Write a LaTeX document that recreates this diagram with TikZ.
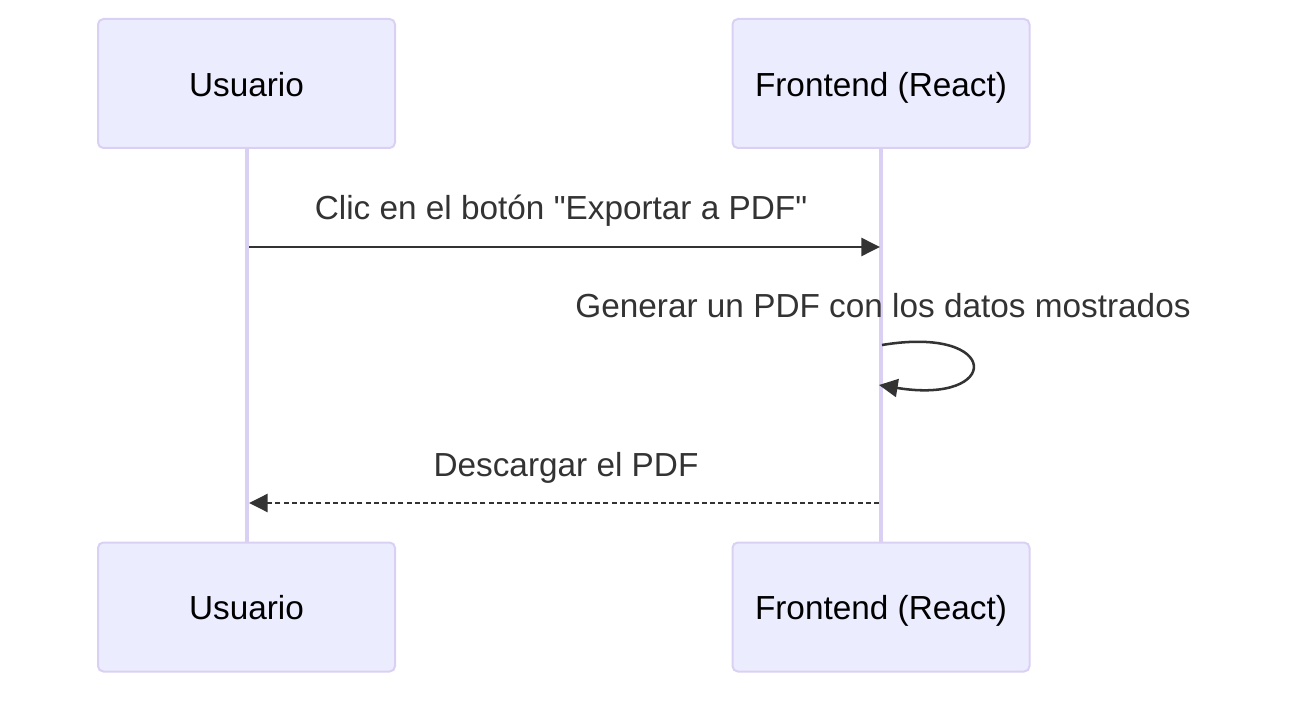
\documentclass[tikz,border=0pt]{standalone}
\usepackage{fontspec}
\setmainfont{Liberation Sans}
\usetikzlibrary{arrows.meta}
\definecolor{actfill}{HTML}{ECECFF}
\definecolor{actline}{HTML}{DAD0F3}
\definecolor{msgc}{HTML}{333333}
\begin{document}
\begin{tikzpicture}[x=0.75pt,y=-0.75pt,
  actor/.style={draw=actline,fill=actfill,line width=1.5pt,rounded corners=4pt,
    minimum width=297*0.75pt,minimum height=129*0.75pt,inner sep=0pt,
    text height=21pt,text depth=2pt,
    font=\fontsize{25}{30}\selectfont,text=black},
  lifeline/.style={draw=actline,line width=2.6pt},
  msgtext/.style={inner sep=0pt,font=\fontsize{25}{30}\selectfont,text=msgc,
    text height=21pt,text depth=2pt},
  msgline/.style={draw=msgc,line width=1.9pt,-{Triangle[length=14pt,width=13.5pt]}},
  dashmsg/.style={msgline,dash pattern=on 3.75pt off 2.4pt}]
\useasboundingbox (0,0) rectangle (1304,702);
% lifelines first
\coordinate (l1t) at (247,148);
\coordinate (l1b) at (247,543);
\coordinate (l2t) at (881,148);
\coordinate (l2b) at (881,543);
\draw[lifeline] (l1t) -- (l1b);
\draw[lifeline] (l2t) -- (l2b);
% actors
\node[actor] (u1) at (246.5,83.5) {Usuario};
\node[actor] (f1) at (881,83.5) {Frontend (React)};
\node[actor] (u2) at (246.5,607) {Usuario};
\node[actor] (f2) at (881,607) {Frontend (React)};
% message 1
\coordinate (m1a) at (249,247);
\coordinate (m1b) at (880,247);
\node[msgtext] (t1) at (561,207) {Clic en el botón \textquotedbl Exportar a PDF\textquotedbl};
\draw[msgline] (m1a) -- (m1b);
% self message
\node[msgtext] (t2) at (883,305) {Generar un PDF con los datos mostrados};
\coordinate (s1) at (882,345);
\coordinate (s2) at (879,385);
\draw[msgline] (s1) .. controls (1002,325) and (1002,405) .. (s2);
% message 3
\node[msgtext] (t3) at (566,464) {Descargar el PDF};
\coordinate (m3a) at (879,503);
\coordinate (m3b) at (249,503);
\draw[dashmsg] (m3a) -- (m3b);
\end{tikzpicture}
\end{document}
